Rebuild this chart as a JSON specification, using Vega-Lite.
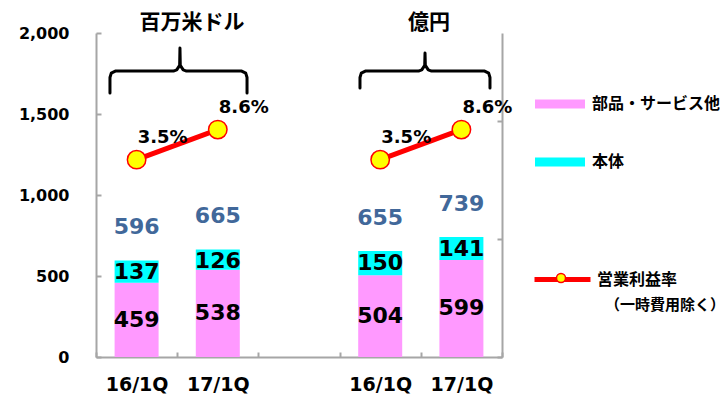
{
  "$schema": "https://vega.github.io/schema/vega-lite/v6.json",
  "width": 406,
  "height": 324,
  "autosize": {"type": "none"},
  "padding": {"left": 96, "top": 33, "right": 218, "bottom": 43},
  "config": {"view": {"stroke": null}},
  "datasets": {
    "bars": [
      {"key": "16/1Q", "part": "部品・サービス他", "value": 459},
      {"key": "16/1Q", "part": "本体", "value": 137},
      {"key": "17/1Q", "part": "部品・サービス他", "value": 538},
      {"key": "17/1Q", "part": "本体", "value": 126},
      {"key": "16/1Q ", "part": "部品・サービス他", "value": 504},
      {"key": "16/1Q ", "part": "本体", "value": 150},
      {"key": "17/1Q ", "part": "部品・サービス他", "value": 599},
      {"key": "17/1Q ", "part": "本体", "value": 141}
    ],
    "sums": [
      {"key": "16/1Q", "grp": "USD", "parts": 459, "body": 137, "total": 596, "margin": 0.035},
      {"key": "17/1Q", "grp": "USD", "parts": 538, "body": 126, "total": 665, "margin": 0.086},
      {"key": "16/1Q ", "grp": "JPY", "parts": 504, "body": 150, "total": 655, "margin": 0.035},
      {"key": "17/1Q ", "grp": "JPY", "parts": 599, "body": 141, "total": 739, "margin": 0.086}
    ],
    "braces": [
      {"brace": "usd", "i": 1, "x": 0.172, "y": 1630},
      {"brace": "usd", "i": 2, "x": 0.172, "y": 1725},
      {"brace": "usd", "i": 3, "x": 0.188, "y": 1752},
      {"brace": "usd", "i": 4, "x": 0.238, "y": 1765},
      {"brace": "usd", "i": 5, "x": 0.954, "y": 1765},
      {"brace": "usd", "i": 6, "x": 0.994, "y": 1772},
      {"brace": "usd", "i": 7, "x": 1.030, "y": 1800},
      {"brace": "usd", "i": 8, "x": 1.034, "y": 1907},
      {"brace": "usd", "i": 9, "x": 1.038, "y": 1800},
      {"brace": "usd", "i": 10, "x": 1.074, "y": 1772},
      {"brace": "usd", "i": 11, "x": 1.114, "y": 1765},
      {"brace": "usd", "i": 12, "x": 1.794, "y": 1765},
      {"brace": "usd", "i": 13, "x": 1.844, "y": 1752},
      {"brace": "usd", "i": 14, "x": 1.860, "y": 1725},
      {"brace": "usd", "i": 15, "x": 1.860, "y": 1630},
      {"brace": "jpy", "i": 1, "x": 3.251, "y": 1660},
      {"brace": "jpy", "i": 2, "x": 3.251, "y": 1725},
      {"brace": "jpy", "i": 3, "x": 3.267, "y": 1752},
      {"brace": "jpy", "i": 4, "x": 3.317, "y": 1765},
      {"brace": "jpy", "i": 5, "x": 3.972, "y": 1765},
      {"brace": "jpy", "i": 6, "x": 4.012, "y": 1772},
      {"brace": "jpy", "i": 7, "x": 4.048, "y": 1800},
      {"brace": "jpy", "i": 8, "x": 4.052, "y": 1877},
      {"brace": "jpy", "i": 9, "x": 4.056, "y": 1800},
      {"brace": "jpy", "i": 10, "x": 4.092, "y": 1772},
      {"brace": "jpy", "i": 11, "x": 4.132, "y": 1765},
      {"brace": "jpy", "i": 12, "x": 4.786, "y": 1765},
      {"brace": "jpy", "i": 13, "x": 4.836, "y": 1752},
      {"brace": "jpy", "i": 14, "x": 4.852, "y": 1725},
      {"brace": "jpy", "i": 15, "x": 4.852, "y": 1660}
    ],
    "titles": [
      {"label": "百万米ドル", "x": 1.182, "y": 2062},
      {"label": "億円", "x": 4.101, "y": 2062}
    ]
  },
  "layer": [
    {
      "layer": [
        {
          "layer": [
            {
              "data": {"name": "bars"},
              "mark": {"type": "bar", "size": 44},
              "encoding": {
                "x": {
                  "field": "key",
                  "type": "nominal",
                  "sort": null,
                  "scale": {"domain": ["16/1Q", "17/1Q", " ", "16/1Q ", "17/1Q "], "paddingInner": 0, "paddingOuter": 0},
                  "axis": {
                    "orient": "bottom",
                    "title": null,
                    "labelFont": "DejaVu Sans",
                    "labelFontWeight": "bold",
                    "labelFontSize": 19,
                    "labelColor": "black",
                    "labelPadding": 23,
                    "labelAngle": 0,
                    "tickBand": "extent",
                    "tickSize": -5,
                    "tickColor": "#A6A6A6",
                    "tickWidth": 2,
                    "domainColor": "#A6A6A6",
                    "domainWidth": 2,
                    "grid": false
                  }
                },
                "y": {
                  "field": "value",
                  "type": "quantitative",
                  "scale": {"domain": [0, 2000]},
                  "axis": {
                    "orient": "left",
                    "title": null,
                    "values": [0, 500, 1000, 1500, 2000],
                    "format": ",.0f",
                    "labelFont": "DejaVu Sans",
                    "labelFontWeight": "bold",
                    "labelFontSize": 16,
                    "labelColor": "black",
                    "labelPadding": 32,
                    "tickSize": -5,
                    "tickColor": "#A6A6A6",
                    "tickWidth": 2,
                    "domainColor": "#A6A6A6",
                    "domainWidth": 2,
                    "grid": false
                  }
                },
                "color": {
                  "field": "part",
                  "type": "nominal",
                  "scale": {"domain": ["部品・サービス他", "本体"], "range": ["#FF99FF", "#00FFFF"]},
                  "legend": {
                    "orient": "none",
                    "legendX": 439,
                    "legendY": 46,
                    "title": null,
                    "padding": 0,
                    "symbolType": "M-1,-0.18L1,-0.18L1,0.18L-1,0.18Z",
                    "symbolSize": 2500,
                    "symbolStrokeWidth": 0,
                    "labelFont": "Noto Sans CJK JP",
                    "labelFontWeight": "bold",
                    "labelFontSize": 16,
                    "labelColor": "black",
                    "labelOffset": 7,
                    "rowPadding": 25
                  }
                },
                "order": {"field": "part", "sort": "descending"}
              }
            },
            {
              "data": {"name": "sums"},
              "mark": {"type": "text", "font": "DejaVu Sans", "fontSize": 22, "fontWeight": "bold", "color": "black", "dy": 12, "baseline": "middle"},
              "encoding": {
                "x": {"field": "key", "type": "nominal", "sort": null},
                "y": {"field": "total", "type": "quantitative"},
                "text": {"field": "body", "type": "quantitative"}
              }
            },
            {
              "data": {"name": "sums"},
              "mark": {"type": "text", "font": "DejaVu Sans", "fontSize": 22, "fontWeight": "bold", "color": "#41689A", "dy": -33, "baseline": "middle"},
              "encoding": {
                "x": {"field": "key", "type": "nominal", "sort": null},
                "y": {"field": "total", "type": "quantitative"},
                "text": {"field": "total", "type": "quantitative"}
              }
            }
          ]
        },
        {
          "data": {"name": "sums"},
          "mark": {"type": "text", "font": "DejaVu Sans", "fontSize": 22, "fontWeight": "bold", "color": "black", "baseline": "middle"},
          "encoding": {
            "x": {"field": "key", "type": "nominal", "sort": null},
            "y": {"field": "parts", "type": "quantitative", "scale": {"domain": [0, 4000]}, "axis": null},
            "text": {"field": "parts", "type": "quantitative"}
          }
        },
        {
          "layer": [
            {
              "data": {"name": "sums"},
              "mark": {"type": "line", "strokeWidth": 5},
              "encoding": {
                "x": {"field": "key", "type": "nominal", "sort": null},
                "y": {
                  "field": "margin",
                  "type": "quantitative",
                  "scale": {"domain": [-0.3, 0.25]},
                  "axis": {
                    "orient": "right",
                    "title": null,
                    "labels": false,
                    "values": [-0.3, -0.1, 0.1],
                    "tickSize": -5,
                    "tickColor": "#A6A6A6",
                    "tickWidth": 2,
                    "domainColor": "#A6A6A6",
                    "domainWidth": 2,
                    "grid": false
                  }
                },
                "detail": {"field": "grp"},
                "stroke": {
                  "datum": "営業利益率",
                  "scale": {"range": ["#FF0000"]},
                  "legend": {
                    "orient": "none",
                    "legendX": 436,
                    "legendY": 216,
                    "title": "（一時費用除く）",
                    "titleOrient": "bottom",
                    "titleAnchor": "middle",
                    "titleAlign": "left",
                    "titleFont": "Noto Sans CJK JP",
                    "titleFontWeight": "bold",
                    "titleFontSize": 15,
                    "titleColor": "black",
                    "titlePadding": 8,
                    "padding": 0,
                    "symbolType": "M-1,0L1,0",
                    "symbolSize": 3136,
                    "symbolStrokeWidth": 5,
                    "labelFont": "Noto Sans CJK JP",
                    "labelFontWeight": "bold",
                    "labelFontSize": 16,
                    "labelColor": "black",
                    "labelOffset": 4
                  }
                }
              }
            },
            {
              "data": {"name": "sums"},
              "mark": {"type": "point", "shape": "circle", "filled": true, "size": 340, "stroke": "#FF0000", "strokeWidth": 1.5, "opacity": 1},
              "encoding": {
                "x": {"field": "key", "type": "nominal", "sort": null},
                "y": {"field": "margin", "type": "quantitative"},
                "fill": {
                  "datum": "dot",
                  "scale": {"range": ["#FFFF00"]},
                  "legend": {
                    "orient": "none",
                    "legendX": 459.5,
                    "legendY": 239.5,
                    "title": null,
                    "padding": 0,
                    "symbolType": "circle",
                    "symbolSize": 81,
                    "symbolStrokeColor": "#FF0000",
                    "symbolStrokeWidth": 1.5,
                    "labelExpr": "''",
                    "labelFontSize": 8
                  }
                }
              }
            },
            {
              "data": {"name": "sums"},
              "mark": {"type": "text", "font": "DejaVu Sans", "fontSize": 18, "fontWeight": "bold", "color": "black", "dx": 26, "dy": -22, "baseline": "middle"},
              "encoding": {
                "x": {"field": "key", "type": "nominal", "sort": null},
                "y": {"field": "margin", "type": "quantitative"},
                "text": {"field": "margin", "type": "quantitative", "format": ".1%"}
              }
            }
          ]
        }
      ],
      "resolve": {"scale": {"y": "independent"}}
    },
    {
      "layer": [
        {
          "data": {"name": "braces"},
          "mark": {"type": "line", "color": "black", "strokeWidth": 3, "strokeJoin": "round", "strokeCap": "round"},
          "encoding": {
            "x": {"field": "x", "type": "quantitative", "scale": {"domain": [0, 5]}, "axis": null},
            "y": {"field": "y", "type": "quantitative", "scale": {"domain": [0, 2000]}, "axis": null},
            "detail": {"field": "brace"},
            "order": {"field": "i"}
          }
        },
        {
          "data": {"name": "titles"},
          "mark": {"type": "text", "font": "Noto Sans CJK JP", "fontSize": 21, "fontWeight": "bold", "color": "black", "baseline": "middle"},
          "encoding": {
            "x": {"field": "x", "type": "quantitative"},
            "y": {"field": "y", "type": "quantitative"},
            "text": {"field": "label"}
          }
        }
      ]
    }
  ],
  "resolve": {"scale": {"x": "independent", "y": "independent"}}
}
